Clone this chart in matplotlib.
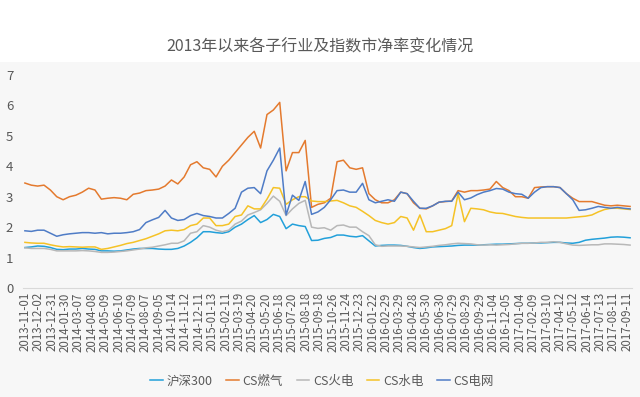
import matplotlib
matplotlib.use("Agg")
import matplotlib.pyplot as plt
import numpy as np
from matplotlib.patches import Rectangle

plt.rcParams['font.family'] = ['Noto Sans CJK SC', 'DejaVu Sans']

# 交易日序号（每10个交易日取一个点）
days = np.arange(0, 951, 10)

# 各序列市净率
hs300 = [1.33, 1.35, 1.38, 1.37, 1.33, 1.27, 1.26, 1.28, 1.28, 1.3,
         1.28, 1.27, 1.22, 1.22, 1.21, 1.22, 1.25, 1.28, 1.3, 1.3,
         1.3, 1.28, 1.27, 1.27, 1.3, 1.38, 1.5, 1.65, 1.85, 1.85,
         1.82, 1.8, 1.85, 2.0, 2.1, 2.25, 2.38, 2.15, 2.25, 2.42,
         2.35, 1.95, 2.1, 2.05, 2.02, 1.56, 1.57, 1.63, 1.66, 1.74,
         1.74, 1.7, 1.68, 1.72, 1.55, 1.38, 1.4, 1.41, 1.41, 1.4,
         1.37, 1.33, 1.3, 1.32, 1.35, 1.36, 1.37, 1.38, 1.4, 1.41,
         1.41, 1.41, 1.42, 1.43, 1.44, 1.44, 1.45, 1.46, 1.47, 1.47,
         1.48, 1.48, 1.49, 1.5, 1.5, 1.48, 1.47, 1.5, 1.57, 1.6,
         1.62, 1.64, 1.67, 1.68, 1.67, 1.65]
gas = [3.45, 3.38, 3.35, 3.38, 3.22, 3.0, 2.9, 3.0, 3.05, 3.15,
       3.28, 3.22, 2.92, 2.95, 2.97, 2.95, 2.9, 3.08, 3.12, 3.2,
       3.22, 3.25, 3.35, 3.55, 3.42, 3.65, 4.05, 4.15, 3.95, 3.9,
       3.65, 4.0, 4.2, 4.45, 4.7, 4.95, 5.15, 4.6, 5.7, 5.85,
       6.1, 3.85, 4.45, 4.45, 4.85, 2.65, 2.75, 2.8, 2.95, 4.15,
       4.2, 3.95, 3.9, 3.95, 3.1, 2.9, 2.8, 2.8, 2.9, 3.15,
       3.1, 2.8, 2.62, 2.6, 2.7, 2.82, 2.84, 2.86, 3.2, 3.15,
       3.2, 3.2, 3.22, 3.25, 3.5, 3.3, 3.2, 3.0, 3.0, 2.95,
       3.3, 3.32, 3.33, 3.33, 3.3, 3.1, 2.95, 2.84, 2.84, 2.84,
       2.78, 2.72, 2.7, 2.72, 2.7, 2.68]
thermal = [1.32, 1.3, 1.3, 1.3, 1.27, 1.22, 1.22, 1.22, 1.22, 1.23,
           1.22, 1.2, 1.17, 1.17, 1.18, 1.2, 1.22, 1.25, 1.28, 1.32,
           1.34, 1.38, 1.42, 1.47, 1.47, 1.55, 1.8, 1.85, 2.05, 2.0,
           1.9, 1.85, 1.9, 2.1, 2.2, 2.4, 2.48, 2.57, 2.78, 3.02,
           2.85, 2.38, 2.6, 2.78, 2.88, 2.0, 1.96, 1.98, 1.9, 2.05,
           2.07, 2.0, 2.0, 1.85, 1.72, 1.42, 1.37, 1.38, 1.38, 1.38,
           1.37, 1.35, 1.33, 1.35, 1.37, 1.4, 1.42, 1.45, 1.47, 1.46,
           1.45, 1.42, 1.41, 1.42, 1.41, 1.42, 1.43, 1.45, 1.47, 1.47,
           1.48, 1.5, 1.5, 1.52, 1.5, 1.45, 1.41, 1.4, 1.41, 1.42,
           1.42, 1.45, 1.45, 1.44, 1.43, 1.41]
hydro = [1.5, 1.48, 1.47, 1.47, 1.42, 1.38, 1.35, 1.36, 1.35, 1.34,
         1.35, 1.35, 1.27, 1.3, 1.35, 1.4, 1.46, 1.5, 1.56, 1.62,
         1.7, 1.78, 1.88, 1.9, 1.88, 1.92, 2.05, 2.1, 2.3, 2.3,
         2.05, 2.05, 2.1, 2.35, 2.4, 2.7, 2.6, 2.6, 2.92, 3.3,
         3.28, 2.75, 2.9, 3.0, 3.0, 2.86, 2.84, 2.84, 2.86, 2.88,
         2.8, 2.7, 2.65, 2.52, 2.38, 2.22, 2.15, 2.1, 2.15, 2.35,
         2.3, 1.9, 2.4, 1.85, 1.85, 1.9, 1.95, 2.05, 3.1, 2.18,
         2.62, 2.6, 2.57, 2.5, 2.46, 2.45, 2.4, 2.35, 2.32, 2.3,
         2.3, 2.3, 2.3, 2.3, 2.3, 2.3, 2.32, 2.34, 2.36, 2.4,
         2.5, 2.58, 2.62, 2.62, 2.6, 2.58]
grid = [1.88, 1.86, 1.9, 1.9, 1.8, 1.7, 1.75, 1.78, 1.8, 1.82,
        1.82, 1.8, 1.82, 1.78, 1.8, 1.8, 1.82, 1.85, 1.92, 2.15,
        2.24, 2.32, 2.55, 2.3, 2.22, 2.25, 2.38, 2.45, 2.38, 2.35,
        2.3, 2.3, 2.45, 2.62, 3.15, 3.28, 3.3, 3.1, 3.85, 4.2,
        4.6, 2.4, 3.05, 2.88, 3.5, 2.42, 2.5, 2.65, 2.9, 3.2,
        3.22, 3.15, 3.15, 3.44, 2.9, 2.8, 2.85, 2.9, 2.85, 3.15,
        3.1, 2.85, 2.62, 2.62, 2.7, 2.82, 2.85, 2.85, 3.15, 2.9,
        2.96, 3.07, 3.15, 3.2, 3.27, 3.25, 3.15, 3.1, 3.08, 2.95,
        3.15, 3.3, 3.33, 3.33, 3.3, 3.1, 2.9, 2.55, 2.57, 2.62,
        2.68, 2.65, 2.62, 2.65, 2.62, 2.6]

# x轴标签（每21个交易日一个）
tick_labels = ['2013-11-01', '2013-12-02', '2013-12-31', '2014-01-30', '2014-03-07',
               '2014-04-08', '2014-05-09', '2014-06-10', '2014-07-09', '2014-08-07',
               '2014-09-05', '2014-10-14', '2014-11-12', '2014-12-11', '2015-01-13',
               '2015-02-11', '2015-03-19', '2015-04-20', '2015-05-20', '2015-06-18',
               '2015-07-20', '2015-08-18', '2015-09-18', '2015-10-26', '2015-11-24',
               '2015-12-23', '2016-01-22', '2016-02-29', '2016-03-29', '2016-04-28',
               '2016-05-30', '2016-06-30', '2016-07-29', '2016-08-29', '2016-09-29',
               '2016-11-04', '2016-12-05', '2017-01-04', '2017-02-09', '2017-03-10',
               '2017-04-12', '2017-05-12', '2017-06-14', '2017-07-13', '2017-08-11',
               '2017-09-11']
tick_step = 21

names = ['沪深300', 'CS燃气', 'CS火电', 'CS水电', 'CS电网']
colors = ['#22A0DA', '#E47A2E', '#B8B8B8', '#F5C226', '#4F7CC6']
series = [hs300, gas, thermal, hydro, grid]

text_color = '#595959'

fig = plt.figure(figsize=(6.4, 3.97), dpi=100)
# 图表区浅灰底色（标题上方为白色）
fig.patches.append(Rectangle((0, 0), 1, (397 - 62) / 397, transform=fig.transFigure,
                             facecolor='#F7F7F7', edgecolor='none', zorder=-1))

ax = fig.add_axes([23 / 640, 1 - 288 / 397, (632 - 23) / 640, (288 - 75) / 397])
ax.set_facecolor('none')

for name, vals, c in zip(names, series, colors):
    ax.plot(days, vals, color=c, lw=1.1, label=name)

ax.set_xlim(-3, 953)
ax.set_ylim(0, 7)
ax.set_yticks(range(0, 8))
ax.set_xticks(np.arange(len(tick_labels)) * tick_step)
ax.set_xticklabels(tick_labels, rotation=90, fontsize=8.3, color=text_color)
ax.tick_params(axis='x', length=0, pad=3)
ax.tick_params(axis='y', length=0, pad=7, labelsize=9.5, labelcolor=text_color)

for side in ['top', 'right', 'left']:
    ax.spines[side].set_visible(False)
ax.spines['bottom'].set_color('#D9D9D9')
ax.spines['bottom'].set_linewidth(0.8)

fig.text(0.5, 1 - 47 / 397, '2013年以来各子行业及指数市净率变化情况',
         ha='center', va='center', fontsize=11.5, color=text_color)

fig.legend(loc='center', bbox_to_anchor=(322 / 640, 1 - 381 / 397), ncol=5,
           frameon=False, fontsize=9, labelcolor=text_color,
           handlelength=1.0, handletextpad=0.3, columnspacing=1.1)

fig.savefig('out.png', dpi=100)
